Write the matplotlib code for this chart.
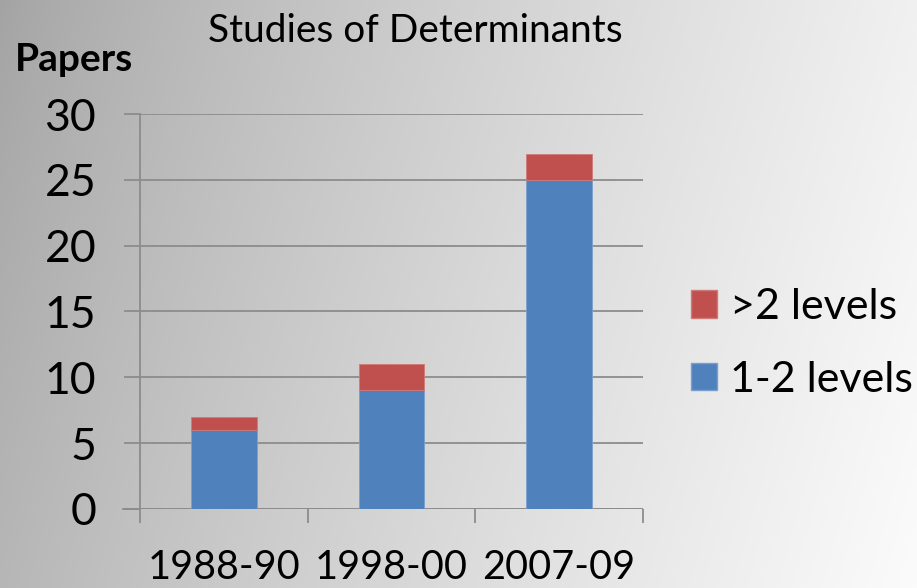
import numpy as np
import matplotlib
matplotlib.use("Agg")
import matplotlib.pyplot as plt
from matplotlib.patches import Patch

periods = ["1988-90", "1998-00", "2007-09"]
levels_1_2 = [6, 9, 25]
levels_gt2 = [1, 2, 2]
yticks = [0, 5, 10, 15, 20, 25, 30]

blue = "#4F81BD"
red = "#C0504D"
grid_col = "#8c8c8c"
font = "Lato"

fig = plt.figure(figsize=(9.17, 5.88), dpi=100)

# background: gray-to-white gradient
bg = fig.add_axes([0, 0, 1, 1], zorder=-10)
xx = np.linspace(0, 1, 400)
yy = np.linspace(0, 1, 300)
X, Y = np.meshgrid(xx, yy)
t = np.clip(0.85 * X + 0.15 * (1 - Y), 0, 1)
val = 0.64 + (0.985 - 0.64) * (t ** 0.8)
img = np.dstack([val, val, val])
bg.imshow(img, aspect="auto", extent=[0, 1, 0, 1], origin="lower")
bg.axis("off")

ax = fig.add_axes([0.1527, 0.1344, 0.5485, 0.6717])
ax.patch.set_alpha(0)
x = np.arange(len(periods))
w = 0.39
ax.bar(x, levels_1_2, width=w, color=blue, edgecolor="#7a9fcf", linewidth=0.6, zorder=3)
ax.bar(x, levels_gt2, width=w, bottom=levels_1_2, color=red, edgecolor="#d07a77", linewidth=0.6, zorder=3)

ax.set_xlim(-0.5, len(periods) - 0.5)
ax.set_ylim(0, 30)
ax.set_yticks(yticks)
ax.yaxis.grid(True, color=grid_col, linewidth=1.3, zorder=1)
ax.set_axisbelow(True)
for s in ["top", "right", "bottom"]:
    ax.spines[s].set_visible(False)
ax.spines["left"].set_color(grid_col)
ax.spines["left"].set_linewidth(1.3)
ax.tick_params(axis="y", length=11.5, width=1.3, color=grid_col, pad=20,
               labelsize=32)
for lab in ax.get_yticklabels():
    lab.set_fontfamily(font)

ax.set_xticks(x)
ax.set_xticklabels(periods, fontsize=28.5, fontfamily=font)
ax.set_xticks(np.arange(-0.5, len(periods)), minor=True)
ax.tick_params(axis="x", which="major", length=0, pad=29)
ax.tick_params(axis="x", which="minor", length=10, width=1.3, color=grid_col)
ax.axhline(0, color=grid_col, linewidth=1.3, zorder=2)
ax.plot([-0.6, -0.5], [0, 0], color=grid_col, linewidth=1.3, clip_on=False)

fig.text(0.453, 0.948, "Studies of Determinants", ha="center", va="center",
         fontsize=28, fontfamily=font)
fig.text(0.016, 0.898, "Papers", ha="left", va="center", fontsize=28,
         fontweight="bold", fontfamily=font)

handles = [Patch(facecolor=red, edgecolor="#d07a77"), Patch(facecolor=blue, edgecolor="#7a9fcf")]
leg = fig.legend(handles, [">2 levels", "1-2 levels"], loc="center left",
                 bbox_to_anchor=(0.754, 0.416), frameon=False,
                 prop={"family": font, "size": 31}, handlelength=0.6,
                 handleheight=0.6, handletextpad=0.3, labelspacing=0.8,
                 borderpad=0, borderaxespad=0)

fig.savefig("out.png", dpi=100)
